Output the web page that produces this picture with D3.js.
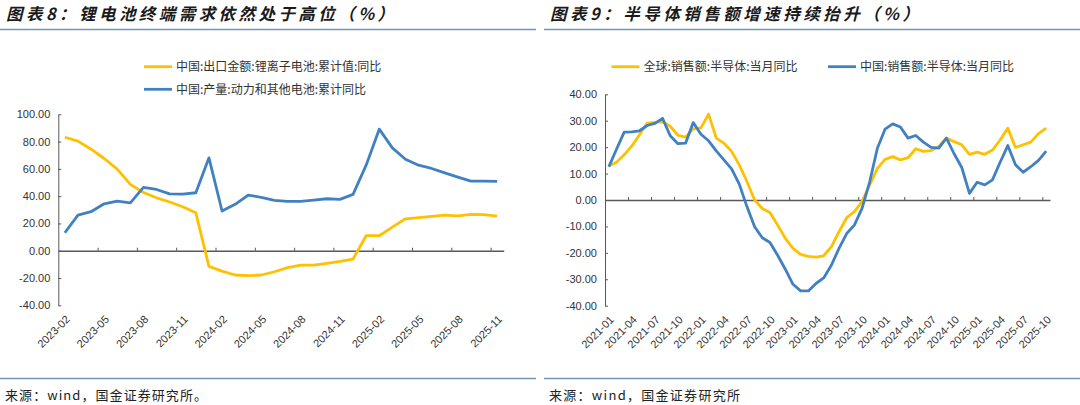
<!DOCTYPE html>
<html>
<head>
<meta charset="utf-8">
<script src="https://cdn.jsdelivr.net/npm/d3@7"></script>
<style>
  body { margin: 0; background: #fff; }
  svg { display: block; }
</style>
</head>
<body>
<svg id="chart"></svg>
<script>
// 图表8 data ------------------
const months8 = [
  '2023-02', '2023-03', '2023-04', '2023-05', '2023-06', '2023-07', '2023-08', '2023-09', '2023-10', '2023-11', '2023-12',
  '2024-01', '2024-02', '2024-03', '2024-04', '2024-05', '2024-06', '2024-07', '2024-08', '2024-09', '2024-10', '2024-11', '2024-12',
  '2025-01', '2025-02', '2025-03', '2025-04', '2025-05', '2025-06', '2025-07', '2025-08', '2025-09', '2025-10', '2025-11',
];
const exportYoY = [
  83.2, 80.3, 74.4, 67.6, 59.8, 48.6, 42.7, 38.8, 35.7, 32.2, 27.8,
  -11.5, -14.9, -17.8, -18.3, -17.8, -15.4, -12.4, -10.5, -10.5, -9.2, -7.8, -6.1,
  11.0, 11.0, 17.3, 23.4, 24.2, 25.2, 26.1, 25.6, 26.6, 26.4, 25.4,
];
const outputYoY = [
  13.2, 26.1, 28.6, 34.4, 36.4, 35.1, 46.4, 44.9, 41.7, 41.5, 42.5,
  68.1, 29.1, 34.0, 40.8, 39.1, 36.9, 36.2, 36.2, 37.1, 38.1, 37.6, 41.3,
  62.7, 89.1, 75.4, 67.1, 62.7, 60.3, 57.1, 54.0, 51.0, 51.0, 50.9,
];
const yTicks8 = [-40, -20, 0, 20, 40, 60, 80, 100];

// 图表9 data ------------------
const months9 = [
  '2021-01', '2021-02', '2021-03', '2021-04', '2021-05', '2021-06', '2021-07', '2021-08', '2021-09', '2021-10', '2021-11', '2021-12',
  '2022-01', '2022-02', '2022-03', '2022-04', '2022-05', '2022-06', '2022-07', '2022-08', '2022-09', '2022-10', '2022-11', '2022-12',
  '2023-01', '2023-02', '2023-03', '2023-04', '2023-05', '2023-06', '2023-07', '2023-08', '2023-09', '2023-10', '2023-11', '2023-12',
  '2024-01', '2024-02', '2024-03', '2024-04', '2024-05', '2024-06', '2024-07', '2024-08', '2024-09', '2024-10', '2024-11', '2024-12',
  '2025-01', '2025-02', '2025-03', '2025-04', '2025-05', '2025-06', '2025-07', '2025-08', '2025-09', '2025-10',
];
const globalYoY = [
  12.9, 14.3, 17.1, 20.5, 24.7, 29.1, 29.4, 29.6, 27.9, 24.5, 23.8, 26.9,
  27.3, 32.5, 23.4, 21.5, 18.4, 13.3, 7.0, 0.0, -3.2, -4.7, -9.5, -14.5,
  -18.3, -20.6, -21.3, -21.6, -21.1, -17.7, -12.0, -6.7, -4.4, -0.6, 5.7, 12.0,
  15.4, 16.4, 15.2, 16.0, 19.4, 18.4, 18.7, 20.3, 23.4, 22.1, 20.9, 17.3,
  18.1, 17.3, 18.9, 22.7, 27.2, 19.9, 20.9, 21.9, 25.1, 27.2,
];
const chinaYoY = [
  12.6, 19.2, 25.7, 25.8, 26.2, 28.2, 29.0, 30.9, 24.3, 21.3, 21.5, 29.3,
  24.9, 22.4, 18.6, 15.2, 11.8, 6.0, -2.5, -10.1, -14.3, -16.1, -20.9, -26.2,
  -31.9, -34.4, -34.4, -31.6, -29.5, -24.7, -18.3, -12.7, -9.5, -3.2, 6.9, 19.6,
  26.8, 28.8, 27.6, 23.4, 24.4, 21.9, 19.9, 19.6, 23.4, 17.5, 12.3, 2.5,
  6.7, 5.7, 7.6, 14.3, 20.6, 13.3, 10.5, 12.6, 15.0, 18.5,
];
const yTicks9 = [-40, -30, -20, -10, 0, 10, 20, 30, 40];

const YELLOW = '#ffc000';
const BLUE = '#4181c2';
const RULE = '#7096b8';
const AXIS = '#595959';
const CJK = '"Noto Sans CJK SC", "Noto Sans", sans-serif';
const NUM = '"Liberation Sans", Arial, sans-serif';

const w = 1080;
const h = 405;

const svg = d3.select('#chart').attr('width', w).attr('height', h);

// HEADER / FOOTER -------------

function frame(x0, x1, title, titleLen, source, sourceLen) {
  svg
    .append('text')
    .attr('x', x0 + 6)
    .attr('y', 20)
    .attr('textLength', titleLen)
    .attr('lengthAdjust', 'spacing')
    .style('font-family', CJK)
    .style('font-size', '16.5px')
    .style('font-weight', 'bold')
    .style('font-style', 'italic')
    .style('fill', '#1a1a1a')
    .text(title);

  svg
    .append('line')
    .attr('x1', x0)
    .attr('x2', x1)
    .attr('y1', 29.5)
    .attr('y2', 29.5)
    .attr('stroke', RULE)
    .attr('stroke-width', 1.5);

  svg
    .append('line')
    .attr('x1', x0)
    .attr('x2', x1)
    .attr('y1', 378.5)
    .attr('y2', 378.5)
    .attr('stroke', RULE)
    .attr('stroke-width', 1.5);

  svg
    .append('text')
    .attr('x', x0 + 5)
    .attr('y', 400)
    .attr('textLength', sourceLen)
    .attr('lengthAdjust', 'spacing')
    .style('font-family', CJK)
    .style('font-size', '13px')
    .style('fill', '#222')
    .text(source);
}

frame(0, 536, '图表8：锂电池终端需求依然处于高位（%）', 388, '来源：wind，国金证券研究所。', 202);
frame(544, 1080, '图表9：半导体销售额增速持续抬升（%）', 369, '来源：wind，国金证券研究所', 191);

// PANELS ----------------------

function drawPanel(cfg) {
  const n = cfg.cats.length;
  const x = d3.scaleBand().domain(cfg.cats).range([cfg.left, cfg.right]);
  const xi = d3.scaleLinear().domain([0, n]).range([cfg.left, cfg.right]);
  const y = d3
    .scaleLinear()
    .domain(d3.extent(cfg.yTicks))
    .range([cfg.bottom, cfg.top]);

  const graph = svg.append('g').attr('class', 'graph-area');

  // y axis, ticks pointing inward
  const gY = graph
    .append('g')
    .attr('transform', `translate(${cfg.left},0)`)
    .call(
      d3
        .axisLeft(y)
        .tickValues(cfg.yTicks)
        .tickSize(-3)
        .tickSizeOuter(0)
        .tickPadding(8)
        .tickFormat((d) => d.toFixed(2))
    );
  gY.attr('font-family', NUM).attr('font-size', 11).attr('color', AXIS);
  gY.selectAll('text').style('fill', '#333');

  // horizontal axis at zero, ticks between every third month
  const gX = graph
    .append('g')
    .attr('transform', `translate(0,${y(0)})`)
    .call(
      d3
        .axisBottom(xi)
        .tickValues(d3.range(3, n, 3))
        .tickSize(-3)
        .tickSizeOuter(0)
        .tickFormat('')
    );
  gX.attr('color', AXIS);
  gX.select('.domain').attr('stroke-width', 1.3);

  // month labels under the plot
  const gL = graph
    .append('g')
    .attr('transform', `translate(0,${cfg.bottom})`)
    .call(
      d3
        .axisBottom(x)
        .tickValues(cfg.cats.filter((d, i) => i % 3 === 0))
        .tickSize(0)
    );
  gL.select('.domain').remove();
  gL.attr('font-family', NUM).attr('font-size', 11);
  gL.selectAll('text')
    .attr('y', 0)
    .attr('dy', '0.35em')
    .attr('transform', 'translate(3,12) rotate(-45)')
    .style('text-anchor', 'end')
    .style('fill', '#333');

  const line = d3
    .line()
    .x((d, i) => x(cfg.cats[i]) + x.bandwidth() / 2)
    .y((d) => y(d));

  cfg.series.forEach((s) => {
    graph
      .append('path')
      .datum(s.values)
      .attr('fill', 'none')
      .attr('stroke', s.color)
      .attr('stroke-width', 2.8)
      .attr('stroke-linejoin', 'round')
      .attr('d', line);
  });

  // legend
  cfg.series.forEach((s) => {
    graph
      .append('line')
      .attr('x1', s.lx)
      .attr('x2', s.lx + 28)
      .attr('y1', s.ly)
      .attr('y2', s.ly)
      .attr('stroke', s.color)
      .attr('stroke-width', 2.8);
    graph
      .append('text')
      .attr('x', s.lx + 32)
      .attr('y', s.ly + 4.5)
      .style('font-family', CJK)
      .style('font-size', '12px')
      .style('fill', '#333')
      .text(s.name);
  });
}

drawPanel({
  cats: months8,
  yTicks: yTicks8,
  left: 58.3,
  right: 503.7,
  top: 114.3,
  bottom: 305.3,
  series: [
    { name: '中国:出口金额:锂离子电池:累计值:同比', values: exportYoY, color: YELLOW, lx: 144, ly: 66.7 },
    { name: '中国:产量:动力和其他电池:累计同比', values: outputYoY, color: BLUE, lx: 144, ly: 89.3 },
  ],
});

drawPanel({
  cats: months9,
  yTicks: yTicks9,
  left: 605,
  right: 1050,
  top: 94.3,
  bottom: 305.7,
  series: [
    { name: '全球:销售额:半导体:当月同比', values: globalYoY, color: YELLOW, lx: 611.5, ly: 66.7 },
    { name: '中国:销售额:半导体:当月同比', values: chinaYoY, color: BLUE, lx: 828, ly: 66.7 },
  ],
});
</script>
</body>
</html>
